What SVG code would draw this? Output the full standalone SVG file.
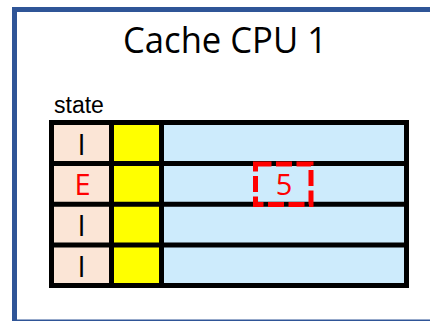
<svg xmlns="http://www.w3.org/2000/svg" width="430" height="321" viewBox="0 0 430 321">
  <style>
    .frame { fill: #ffffff; stroke: #2F5597; stroke-width: 5; }
    .title { font-family: "Open Sans", "Noto Sans", sans-serif; font-size: 36px; fill: #000000; }
    .label { font-family: "Liberation Sans", Arial, sans-serif; font-size: 23px; fill: #000000; }
    .st { fill: #FBE5D6; }
    .tag { fill: #FFFF00; }
    .data { fill: #CDEBFC; }
    .grid { fill: none; stroke: #000000; stroke-width: 5; }
    .cell { font-family: "Open Sans", "Noto Sans", sans-serif; font-size: 29px; text-anchor: middle; }
    .inv { fill: #000000; }
    .red { fill: #FF0000; }
    .sel { fill: none; stroke: #FF0000; stroke-width: 5; stroke-dasharray: 16 4.5; }
  </style>

  <!-- cache frame -->
  <g id="frame">
    <rect class="frame" x="14.5" y="9.5" width="430" height="312.5"/>
  </g>

  <g id="title">
    <text class="title" x="123" y="53" textLength="204" lengthAdjust="spacingAndGlyphs">Cache CPU 1</text>
  </g>

  <g id="state-label">
    <text class="label" x="54" y="113">state</text>
  </g>

  <!-- cache lines: state | tag | data -->
  <g id="cache-table">
    <rect class="st" x="51.5" y="122.5" width="60" height="163"/>
    <rect class="tag" x="111.5" y="122.5" width="50" height="163"/>
    <rect class="data" x="161.5" y="122.5" width="245" height="163"/>

    <g id="line-0">
      <text class="cell inv" x="81.5" y="155">I</text>
    </g>
    <g id="line-1">
      <text class="cell red" x="82.5" y="195">E</text>
      <text class="cell red" x="284" y="195">5</text>
    </g>
    <g id="line-2">
      <text class="cell inv" x="81.5" y="236">I</text>
    </g>
    <g id="line-3">
      <text class="cell inv" x="81.5" y="277">I</text>
    </g>

    <rect class="grid" x="51.5" y="122.5" width="355" height="163"/>
    <path class="grid" d="M51.5 163.5H406.5M51.5 204.3H406.5M51.5 245H406.5M111.5 122.5V285.5M161.5 122.5V285.5"/>
  </g>

  <!-- highlighted data word -->
  <g id="selected-word">
    <rect class="sel" x="255.5" y="164" width="55.5" height="40.5"/>
  </g>
</svg>
